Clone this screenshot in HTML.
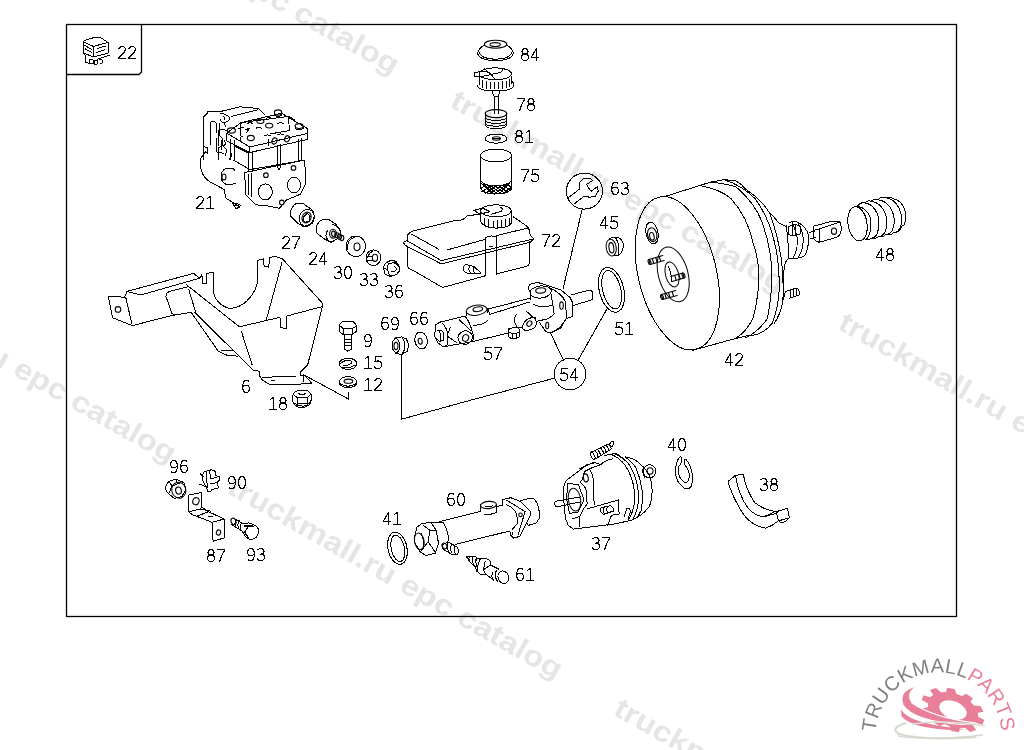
<!DOCTYPE html>
<html><head><meta charset="utf-8">
<style>
html,body{margin:0;padding:0;background:#fff;width:1024px;height:750px;overflow:hidden}
svg{display:block;will-change:transform}
.wm{font-family:"Liberation Sans",sans-serif;font-weight:bold;font-size:29px;fill:#e5e5e5}
.gl{fill:none;stroke:#000;stroke-width:1.1;shape-rendering:crispEdges;stroke-linejoin:round;stroke-linecap:square}
.lb{font-family:"Liberation Sans",sans-serif;font-size:17px;fill:#000}
.d{fill:none;stroke:#000;stroke-width:1;stroke-linejoin:round;stroke-linecap:round}
.d path,.d line,.d polyline,.d polygon{shape-rendering:crispEdges}
.d ellipse,.d circle{stroke-width:1;shape-rendering:crispEdges}
.w{fill:#fff;stroke:#000;stroke-width:1.1;stroke-linejoin:round;stroke-linecap:round}
</style></head><body>
<svg width="1024" height="750" viewBox="0 0 1024 750">
<g id="wm">
<text class="wm" transform="translate(62,-112.5) rotate(29.6)" textLength="380" lengthAdjust="spacingAndGlyphs">truckmall.ru epc catalog</text>
<text class="wm" transform="translate(448.5,106) rotate(29.6)" textLength="380" lengthAdjust="spacingAndGlyphs">truckmall.ru epc catalog</text>
<text class="wm" transform="translate(836.5,328) rotate(29.6)" textLength="380" lengthAdjust="spacingAndGlyphs">truckmall.ru epc catalog</text>
<text class="wm" transform="translate(-161,276) rotate(29.6)" textLength="380" lengthAdjust="spacingAndGlyphs">truckmall.ru epc catalog</text>
<text class="wm" transform="translate(225.5,492) rotate(29.6)" textLength="380" lengthAdjust="spacingAndGlyphs">truckmall.ru epc catalog</text>
<text class="wm" transform="translate(612,714) rotate(29.6)" textLength="380" lengthAdjust="spacingAndGlyphs">truckmall.ru epc catalog</text>
</g>
<g id="frame">
<rect x="66.5" y="24.5" width="890" height="592" fill="none" stroke="#000" stroke-width="1.3"/>
<path d="M66.5 74.5 H139 L141.5 72 V24.5" fill="none" stroke="#000" stroke-width="1.3"/>
</g>
<g id="p22" class="d">
<path d="M83 41.6 L87.1 39.4 L95.2 37.3 L100.2 37.3 L107.9 42.5 L93.4 46.4 Z"/>
<path d="M83 41.6 V52.8 L93.4 57 L108.4 53 V42.5 M93.4 46.4 V57"/>
<path d="M84.3 45.2 L91.6 49.3 M85.3 48.9 L91.6 52.5 M97.5 48.4 L105.2 46.2 M96.6 52.5 L104.8 49.8 M100.7 44.3 L106.1 43"/>
<path d="M83.4 53.4 L85.3 55.5 V62 L89.8 63.8 M109.3 55.2 L97 59.3"/>
<path d="M89.3 59.6 H93 V63.8 H89.3 Z M94.3 60.2 H97 V64.3 H94.3 Z M99.5 59.6 H102 V63.2 H100"/>
</g>
<g id="p21" class="d">
<path d="M207.9 111.7 L220 111.6 L240.2 106.8 L258.7 108.5 L264.8 114.7"/>
<path d="M231.4 116.4 L257.8 109.8"/>
<path d="M208 112.7 L203.2 117.3 V146.7"/><path d="M207.3 153.3 Q206 152 205.6 152"/>
<path d="M210 145.3 V123 Q213 119.5 216 123 V133.3 M207.3 147.3 V153.3 M203.3 146.7 L207.3 147.3"/>
<path d="M218 131 Q222 128.5 227 130.5 M218 131 V140 L219 146 M216.7 138.7 V152 L223.3 153.3 M221 140 V150"/>
<path d="M224 140 L226 144 L223 146 L227 150 L225 156"/>
<path d="M220 113 Q227 114 229.7 118 Q229 122 223 122.6 Q219.5 121 220 117 M223 116.5 Q226 118 224 120"/>
<path d="M224 123 L226 127 M219 123 L219 135 L222 138 L222 146 L218 148 L218 160"/>
<path d="M226.6 133.1 L241.1 122.6 L281.5 113.3 L307 128.3 L307.9 139.3 L249.9 152.5 L226.6 141 Z"/>
<path d="M226.6 133.1 L249.9 147 L307 133.5 M249.9 147 V152.5"/>
<path d="M241.1 122.6 L240.2 135.8 L243 137 M241.1 122.6 L288.5 116.4 L289.4 130.5 L270 134 M288.5 116.4 L295 120"/>
<ellipse cx="260.4" cy="121.3" rx="3.5" ry="2.2" style="shape-rendering:geometricPrecision;stroke-width:1.1"/>
<ellipse cx="269.2" cy="125.6" rx="3.6" ry="2.4" style="shape-rendering:geometricPrecision;stroke-width:1.1"/>
<ellipse cx="278" cy="112.5" rx="3.6" ry="2.6" style="shape-rendering:geometricPrecision;stroke-width:1.1"/>
<path d="M274.4 112.5 V115 Q278 118 281.6 115 V112.5"/>
<ellipse cx="299.1" cy="126.1" rx="4" ry="2.5" style="shape-rendering:geometricPrecision;stroke-width:1.1"/>
<path d="M295.1 126.1 V128.5 Q299 131 303.1 128.5 V126.1"/>
<ellipse cx="231.4" cy="130.5" rx="4" ry="2.6" style="shape-rendering:geometricPrecision;stroke-width:1.1"/>
<ellipse cx="250.8" cy="138" rx="3.5" ry="2.6" style="shape-rendering:geometricPrecision;stroke-width:1.1"/>
<ellipse cx="274.5" cy="141" rx="2.4" ry="3.2" transform="rotate(25 274.5 141)" style="shape-rendering:geometricPrecision;stroke-width:1.1"/>
<ellipse cx="287.2" cy="138.8" rx="2.4" ry="3.2" transform="rotate(25 287.2 138.8)" style="shape-rendering:geometricPrecision;stroke-width:1.1"/>
<path d="M247.5 123.5 Q250 122 252.5 123.5 M266.5 118.2 Q269 116.5 271.5 118.2 M278 123.5 Q280.6 122 283 123.5 M256 128.3 Q258.7 126.5 261.5 128.3 M264.5 135.8 Q267.5 134 270.5 135.8 M277.5 134.9 Q280.6 133 283.5 134.9"/>
<path d="M245 130 L250 128 L246 133 M238 129 L244 127"/>
<path d="M268.5 140 L269 146 M240 137 V142"/>
<path d="M230.2 139 V160 M234.9 140.5 V160.5 M248.9 152.8 V172 M252.4 152.5 V171.5 M277 145 V166 M280.6 144 V165 M298.2 139 V161 M301.7 138 V160.5"/>
<path d="M234.9 146.2 L248.9 153.2 M233.7 160.2 L250.1 169.6 L304 160.2"/>
<path d="M205.6 152 Q199 158 200.3 165 Q201 176 210 182 L224.3 189.5"/>
<path d="M224.3 189.5 L225.5 197.8 L232.5 202.4 L239.5 207.1"/>
<path d="M232.5 203 L236 209 L241 205.5 Q237 203 232.5 203 M234 205.5 L239 205"/>
<path d="M244.8 172.5 L304 160.2 L305.2 168.4 L305.8 183.7 L300.5 194.2 L286.4 200.1 L279.4 208.3 L268 206 L256 204.8 L245.4 194.2 Z"/>
<path d="M248 174 V195 M251.5 173.5 V197"/>
<ellipse cx="265.3" cy="191.9" rx="7" ry="8"/>
<ellipse cx="294" cy="184.9" rx="6.5" ry="8"/>
<circle cx="265.9" cy="175.2" r="2.3" style="shape-rendering:geometricPrecision;stroke-width:1.1"/>
<circle cx="293.5" cy="167.9" r="2.3" style="shape-rendering:geometricPrecision;stroke-width:1.1"/>
<circle cx="281.8" cy="202.4" r="2.3" style="shape-rendering:geometricPrecision;stroke-width:1.1"/>
<path d="M229 168 Q222 168 221 176 Q221 184 229 185 M229 168 Q234 168 235 171 M229 185 Q234 184 236 183"/>
<ellipse cx="224" cy="177" rx="2" ry="3" style="shape-rendering:geometricPrecision;stroke-width:1.1"/>
<path d="M230 150 L232 156 L229 160"/>
<path d="M203.2 146 V160"/>
<path d="M277 166 L279 170 L281 166"/>
</g>
<g id="p27" class="d">
<path d="M297 203 L303 203.3 L313 210.7 L314.3 216.7 L311.7 223.3 L303.7 226.7 L297 222.7 L290.3 216 L291 210 L293.7 205.3 Z"/>
<ellipse cx="306.8" cy="217.8" rx="7.4" ry="8.6" transform="rotate(20 306.8 217.8)" stroke-width="1"/>
<ellipse cx="306.6" cy="217.5" rx="4.4" ry="5.5" transform="rotate(25 306.6 217.5)" stroke-width="1" style="shape-rendering:geometricPrecision;stroke-width:1.1"/>
<path d="M304 216 L307.5 213.5 L310 216 L309 221.5 L305 222.5 L303 219.5 Z" stroke-width="1.3"/>
</g>
<g id="p24" class="d">
<path d="M340 235 L341 231.3 L335.7 224 L328.3 219.3 L323 219.3 L319.7 221.3 L316.3 226 L316.3 232.7 L325 239.3 L331 242.3 L337.7 238.7"/>
<path d="M332 225 Q337 224 340 231"/>
<path d="M327.7 230 Q324 236 328 240"/>
<ellipse cx="333" cy="233.7" rx="3.4" ry="4.4" stroke-width="1" style="shape-rendering:geometricPrecision;stroke-width:1.1"/>
<ellipse cx="333.4" cy="233.8" rx="1.8" ry="2.7" stroke-width="1" style="shape-rendering:geometricPrecision;stroke-width:1.1"/>
<ellipse cx="337" cy="235.3" rx="2" ry="2.6" stroke-width="1" style="shape-rendering:geometricPrecision;stroke-width:1.1"/>
<ellipse cx="339.5" cy="236.7" rx="2" ry="2.6" stroke-width="1" style="shape-rendering:geometricPrecision;stroke-width:1.1"/>
<ellipse cx="341.8" cy="238" rx="2" ry="2.6" stroke-width="1" style="shape-rendering:geometricPrecision;stroke-width:1.1"/>
</g>
<g id="p30" class="d">
<ellipse cx="355.8" cy="246.3" rx="9.8" ry="10.3"/>
<path d="M347 250 Q347 239 355 237"/>
<ellipse cx="357" cy="246.8" rx="3" ry="3.8" style="shape-rendering:geometricPrecision;stroke-width:1.1"/>
</g>
<g id="p33" class="d">
<ellipse cx="373.4" cy="257.7" rx="7.4" ry="7.8"/>
<ellipse cx="375" cy="257.8" rx="2.6" ry="3.6" style="shape-rendering:geometricPrecision;stroke-width:1.1"/>
<path d="M367.9 257.3 Q368.5 253 372.4 251.4 M366.3 256.9 L372.9 256.9 M366.3 260.5 L372.9 260.5"/>
</g>
<g id="p36" class="d">
<path d="M387.4 261.4 L393.3 260.3 L396.5 261.9 L399.6 266.9 L399.6 270.5 L396.5 274.6 L390.1 276.4 L385.1 274.1 L383.3 267.8 L384.7 264.6 Z"/>
<path d="M388.3 263.7 Q392 262.5 395.6 263.2 Q399.6 266 399.6 270 Q398.5 274 394 275.5 Q390 276 389.2 275 Q387.5 270 387.9 269.6 Q387 266 388.3 263.7"/>
<path d="M387.4 261.4 L388.3 263.7 M393.3 260.3 L395.6 263.2 M383.3 267.8 L387.9 269.6"/>
<path d="M394.7 266.4 Q397 268 396.5 269.6 Q395 272 391.5 271.9"/>
</g>
<g id="p6" class="d">
<path d="M108.4 296.8 L113.2 296.2 L124.6 297.4 L127 291.4 L193.6 273.4 L199.6 278.2 L140.8 295 L127 291.4"/>
<path d="M108.4 296.8 L112.6 317.8 L132.4 325.6 L172 315.4 L191.2 312.4"/>
<circle cx="118" cy="309.4" r="2.8" style="shape-rendering:geometricPrecision;stroke-width:1.1"/>
<path d="M125.8 297.6 L131.8 323.5"/>
<path d="M169.6 291.4 L188.8 286.6 M169.6 291.4 Q165.5 293 166 296.6 L172 313.5 L176 315"/>
<path d="M188.8 289.6 L195.4 311.2"/>
<path d="M186.4 284.2 L188.8 286.6 L239.4 326.8 L280 317.3 L280.6 327.4 L286.3 328.7 L287 316 L322.5 306.5"/>
<path d="M191.2 312.4 L218 350.8 L225.5 354.9 L237.9 356.2"/>
<path d="M194.8 312.4 L252.9 369.9 L259.7 371.3 L259.7 376 L262.5 380.2 L270.7 385 L298 384.3 L311.7 383 L303.5 374.7 L303.5 381.5"/>
<path d="M221.4 350.1 L232.4 350.1"/>
<path d="M199.6 278.2 L201.9 274.8 L202.5 283.6 L206.3 283.6 L207 273.5 L213.3 272.2 L213.3 290.6 Q215 304 229.2 308.4 Q245 308 254.6 290.6 Q258 284 257.8 275 L257.8 260.2 L263.5 258.9 L264.1 266.5 L268.6 267.1 L269.8 257.6 L274.9 256.3 L282.5 258.9 L322.5 303.3 L322.5 306.5"/>
<path d="M281.9 262.7 L266 321.1"/>
<path d="M241.3 331.2 L252.2 365.1"/>
<path d="M322.5 306.5 L307.6 365.1 L300.7 372 L300 376 L303.5 374.7"/>
<path d="M262.5 377.4 L296.6 376"/>
<path d="M271 381 L275 380"/>
<path d="M303.5 374.7 L348.8 399.2 L348.8 392"/>
</g>
<g id="p18" class="d">
<path d="M298.1 390 L306.7 390 L311.4 394.4 L311.4 399.4 L309.6 404.8 L304.5 407.3 L298.4 407.3 L293.4 403.7 L292.3 399 L293.4 393.3 Z"/>
<path d="M293.8 394.7 L297 397.6 L307.4 397.6 L310.3 394.7 M297 397.6 V403.7 H307.4 V397.6"/>
<path d="M298.4 393.3 Q301.7 396.5 305.6 393.3"/>
<path d="M294.5 403.3 Q298.8 406.6 304 406 Q308 405 309.6 403"/>
</g>
<g id="p9" class="d">
<path d="M339.3 325.1 L342.5 321.6 L353.1 321.6 L356.9 325.7 L352 328.9 L343.5 328.9 Z"/>
<path d="M339.3 325.1 V331.5 L343.5 334.7 L352.6 334.2 L356.9 331 V325.7 M343.5 328.9 V334.7 M352 328.9 V334.2"/>
<path d="M344.6 334.7 V349.1 L347.8 351.2 L351.5 349.1 V334.7 M344.6 339 H351.5 M344.6 342.2 H351.5 M344.6 345.4 H351.5"/>
</g>
<g id="p15" class="d">
<ellipse cx="348.1" cy="363.8" rx="8.8" ry="5.6"/>
<path d="M340 364 Q345 359 351 361 Q354 363 348 365 L343 366 M341 367 Q348 369 356 365"/>
</g>
<g id="p12" class="d">
<ellipse cx="348.1" cy="382.2" rx="8.8" ry="5.6"/>
<path d="M339.5 383.5 Q348 389 356.5 383.5"/>
<ellipse cx="348.4" cy="381.2" rx="4.3" ry="2.1" style="shape-rendering:geometricPrecision;stroke-width:1.1"/>
</g>
<g id="p69" class="d">
<path d="M396 337.5 L402 336.9 L406.5 339 L408.6 345 L407.5 351 L402 354.4 L396 353.5 L392.5 349 L392 342 Z"/>
<path d="M396 337.5 Q399 340 400 345 Q400 351 396 353.5 M402 336.9 Q405 341 405 346 Q404.5 351 402 354.4"/>
<ellipse cx="396" cy="346" rx="2" ry="3.6" style="shape-rendering:geometricPrecision;stroke-width:1.1"/>
<path d="M401.6 354.4 V419.2 L475 399 M554 378.3 L475 399"/>
</g>
<g id="p66" class="d">
<ellipse cx="421.1" cy="340.5" rx="6.2" ry="8.5" transform="rotate(-12 421.1 340.5)"/>
<path d="M416 345 Q413 337 418 332.5"/>
<ellipse cx="420.2" cy="341.2" rx="2" ry="3" transform="rotate(-12 420.2 341.2)" style="shape-rendering:geometricPrecision;stroke-width:1.1"/>
</g>
<g id="p57" class="d">
<path d="M439.7 322.2 L435.3 324.9 L434.8 336.3 L437.9 342.9 L443.2 346.8 L447.1 345.1"/>
<path d="M439.7 322.2 L465.1 316.1 M442.3 323.1 Q447 328 447.6 334.5 L447.1 345.1"/>
<path d="M437 331 L441 330 L443.6 333 L443.6 340 L440 341.5 L436.5 339"/>
<path d="M439 331 Q441.5 335 440 341"/>
<path d="M459 319.6 L471.3 331 M447.6 336.3 L456.4 342.5 M450.2 327.5 L447.6 334.5"/>
<path d="M465.1 316.1 Q470 322 472.6 333"/>
<ellipse cx="465.2" cy="337.6" rx="7.3" ry="6.6" transform="rotate(-20 465.2 337.6)"/>
<ellipse cx="465.6" cy="338" rx="3" ry="3.5" transform="rotate(20 465.6 338)" style="shape-rendering:geometricPrecision;stroke-width:1.1"/>
<path d="M443.2 346.8 L472.6 341.6 L508.2 333"/>
<ellipse cx="476.5" cy="310.2" rx="10.5" ry="5" transform="rotate(-8 476.5 310.2)"/>
<ellipse cx="477.8" cy="309.2" rx="4.8" ry="2.3" transform="rotate(-8 477.8 309.2)" style="shape-rendering:geometricPrecision;stroke-width:1.1"/>
<path d="M466 310.5 V316 M487 308 V313"/>
<path d="M473.9 325.3 Q484 325 488 320"/>
<path d="M488 309.1 L530 298.2 M489.8 314.3 L530 301.9 M488 309.1 L489.8 314.3"/>
<path d="M508.5 329.5 L512 328 L517 327.5 L519.8 329.5 L519.8 336.5 L516 338.4 L511 338.4 L508.3 336.5 Z M508.3 332 L512 333.5 L516 333.5 L519.8 332 M512 333.5 V338.4 M516 333.5 V338.4"/>
<ellipse cx="540.7" cy="292" rx="10.7" ry="6" transform="rotate(-6 540.7 292)"/>
<ellipse cx="540.7" cy="290.5" rx="5" ry="2.6" transform="rotate(-6 540.7 290.5)" style="shape-rendering:geometricPrecision;stroke-width:1.1"/>
<path d="M530.5 292.6 V299.1 M551.4 294.5 L552.3 301.9 L554.2 314 L548.6 318.6 L536.5 321.4"/>
<path d="M530 284.3 L537.5 282.4 L546.7 285.2 L560.7 289.8 L569.9 297.3 L572.7 302.8 L572.7 316.3 L566.2 318.6 L560.7 327.9 L550.5 333 L545.8 331.6 L539.3 322.3"/>
<path d="M530 284.3 Q527 288 530.5 292.6"/>
<path d="M549.5 288 Q562 293 565.3 301.9 L566.7 317.7"/>
<path d="M550 333 Q560 330 566.2 318.6"/>
<ellipse cx="561.5" cy="305.6" rx="1.8" ry="3.7" style="shape-rendering:geometricPrecision;stroke-width:1.1"/>
<ellipse cx="547.2" cy="325.5" rx="1.5" ry="3.3" style="shape-rendering:geometricPrecision;stroke-width:1.1"/>
<path d="M570.9 295 L588.5 290.3 Q592.5 290.5 592.2 292.6 L592.7 299.6 L572.7 305.6"/>
<path d="M533.8 304.7 Q542 308 551.4 305.6"/>
<path d="M535.8 317 Q528 317.5 524.5 322 Q522 326 523 329 Q524.5 331 529 330 Q535 328.5 536.2 325 Z"/>
<ellipse cx="529.4" cy="323.6" rx="2.2" ry="3" transform="rotate(40 529.4 323.6)" style="shape-rendering:geometricPrecision;stroke-width:1.1"/>
<path d="M517 314 Q513 318 514.3 322 L517 327 M526.3 311.2 L535.6 319.5"/>
<path d="M472.6 341.6 Q474 336 472.6 333 M522.6 327 L508.2 328.4"/>
</g>
<g id="p54" class="d">
<circle cx="570" cy="374" r="15.8"/>
<path d="M550.5 333 L563.4 360.1 M607.5 308 L578.2 360.1 M582.2 209.3 L563 288.9"/>
</g>
<g id="p84" class="d">
<ellipse cx="495.6" cy="44.2" rx="11.2" ry="4" style="shape-rendering:geometricPrecision;stroke-width:1.1"/>
<ellipse cx="495.2" cy="44.6" rx="5.2" ry="2" style="shape-rendering:geometricPrecision;stroke-width:1.1"/>
<path d="M484.6 45 Q479 48 477.5 53 Q479 60.5 495.4 60.6 Q512 60.5 513.4 53 Q512 48 506.6 45"/>
<path d="M479 52 Q481 59 495.4 59.2 Q510 59 512 52"/>
</g>
<g id="p78" class="d">
<ellipse cx="495.2" cy="73.8" rx="16.2" ry="6"/>
<path d="M474 72.6 L486 71 L491 74.5 L480 77 L474 76.6 Z M484.4 68.5 L491 74.5 L496 80 M491 74.5 L500 72.5 Q503 71 502 69"/>
<path d="M479 76 V85.4 M511.4 76 V84 M482 80 V87.5 M486 81 V88.5 M490 81.5 V89 M494 81.5 V89 M498 81.5 V89 M502 81 V88.5 M506 80.5 V88 M509 79 V87"/>
<path d="M477.2 85 Q477.2 91 495.4 91 Q513.6 91 513.6 85 Q513.6 82 511.4 81"/>
<path d="M492.4 91 L492.4 93 L494 96 H498 L499.6 93 V91"/>
<path d="M494 96 V114 M498 96 V114"/>
<ellipse cx="496" cy="113.6" rx="10.8" ry="4" style="shape-rendering:geometricPrecision;stroke-width:1.1"/>
<path d="M485.2 113.6 V125 Q487 128.8 496 128.8 Q505 128.8 506.8 125 V113.6"/>
<path d="M485.2 118.5 Q496 122.5 506.8 118.5 M485.2 121.5 Q496 125.5 506.8 121.5 M485.2 124.5 Q496 128 506.8 124.5"/>
</g>
<g id="p81" class="d">
<ellipse cx="496" cy="138.6" rx="10.8" ry="4.6"/>
<ellipse cx="496.4" cy="138.4" rx="4" ry="1.7" style="shape-rendering:geometricPrecision;stroke-width:1.1"/>
<path d="M492.5 138.4 H500.5" stroke-width="1.5"/>
</g>
<g id="p75" class="d">
<ellipse cx="496.1" cy="155.5" rx="15.4" ry="6.5"/>
<path d="M480.7 155.5 V187.8 Q482 193.9 495.6 193.9 Q510.5 193.9 511.5 187 V155.5"/>
<path d="M480.7 181 Q485 185.8 495.6 185.8 Q507 185.6 511.5 181" />
<path d="M481 183 L492 193.5 M484 184.5 L494 193.8 M487.5 185.5 L497 193.8 M491 186 L501 193.5 M495 186 L504.5 193 M499 186 L507.5 192 M503 185.2 L510 190 M507 184 L511.3 187.5 M481.5 188 L486 184.8 M482 191.5 L491 185.8 M485.5 193 L496 186 M490 193.8 L501 186 M494.5 194 L505.5 185.2 M499 193.8 L509.5 183 M503.5 193 L511.5 187 M508 191.5 L511.5 189.5"/>
</g>
<g id="p72" class="d">
<path d="M411.9 231.2 L455.1 220.5 L462.6 219.9 L467.5 215.6 L480.7 214.3"/>
<path d="M411.9 231.2 Q407.5 234 407.5 236 L406.9 240.6 L403.1 242.5 L405.6 245.6 L441.3 263.9 L530.2 242.2 L534 238.8 L530.2 235 L529.6 230.6 L527.7 226.8 L513.3 216.8"/>
<path d="M406.9 240.6 L441.3 260.6 L534 238.8"/>
<path d="M411.9 234.3 L438.8 249.3 M447 250 L485.1 239.4 M496.4 235.6 L527.7 228.1"/>
<path d="M407.5 246.8 V265.6 Q408 269 411.3 269.4 L442.6 287.5 L485.7 275.7 M496.4 273.9 L526.5 266.3 Q529.6 265 529.6 262 V241.9"/>
<path d="M485.1 274.5 V238.1 Q490 234.5 496.4 236.9 V274.5"/>
<path d="M489 247 L493 246.5"/>
<path d="M466.5 264.5 Q463 265.5 463.5 269 Q464 272.5 467 273 L475 273.5 L481.3 273 L476 268.5 L474 266.5 L466.5 264.5 M470 265.5 Q467.5 269 470.5 273.2 M474 266.5 Q472.5 270 475 273.5"/>
<ellipse cx="496" cy="210.8" rx="15.3" ry="6"/>
<path d="M480.7 211 V221.8 Q484 228.1 496.4 228.1 Q508 228.1 511.4 223 V211"/>
<path d="M484.5 218 V225 M488.8 219.5 V226.5 M493 220.5 V227.5 M497.2 220.5 V227.5 M501.5 220 V227 M505.7 219 V226 M509 217.5 V224"/>
<path d="M473.8 210.5 L482.6 208 L490 211.8 L480 214 Z M491.3 214.3 L501.4 211.2 Q503.5 209 501 207.5"/>
</g>
<g id="p63" class="d">
<circle cx="584.4" cy="191.1" r="18"/>
<path d="M568.3 197.7 L579.5 189.1 L579.5 182.7 L583.7 178.5 L590.7 178.5 L592.3 180.6 L586.9 184.3 L587.5 186.5 L591.2 191.3 L597.6 186.5 L598.1 191.3 L594.9 196.6 L589.6 197.1 L583.7 196.6 L574.1 204"/>
</g>
<g id="p45" class="d">
<ellipse cx="611.2" cy="247.6" rx="5" ry="8.5" transform="rotate(-8 611.2 247.6)"/>
<ellipse cx="611.4" cy="247.8" rx="2.4" ry="5.2" transform="rotate(-8 611.4 247.8)" style="shape-rendering:geometricPrecision;stroke-width:1.1"/>
<path d="M609 239.3 Q613 236 618 237.5 Q623.5 240 623.3 246 Q623 253 618 255.5 L614 256"/>
<path d="M616 238.5 Q620 244 618 255.5"/>
</g>
<g id="p51" class="d">
<ellipse cx="611.5" cy="289.8" rx="12.2" ry="22.8" transform="rotate(-14 611.5 289.8)"/>
<ellipse cx="611.7" cy="289.7" rx="9" ry="19.6" transform="rotate(-14 611.7 289.7)"/>
</g>
<g id="p42" class="d">
<ellipse cx="677.3" cy="273.3" rx="39" ry="78.2" transform="rotate(-13.6 677.3 273.3)"/>

<path d="M663.3 197 L710 182.3 L724 179.6 L736 181"/>
<path d="M692.4 350.4 L730 340 L748 335.6"/>
<path d="M700 185.6 Q722 190 731.2 198.8 Q748 218 752.8 242 Q760 262 758.8 282.8 Q757 305 752.8 318.8 Q746 332 736 338"/>
<path d="M709.6 182 Q728 184 736 186.8 Q755 203 762.4 222.8 Q772 250 772 278 Q771 302 767.2 318.8 Q758 332 745.6 338"/>
<path d="M724 179.6 Q743 186 755.2 198.8 Q769 218 774.4 242 Q780 265 779.2 290 Q778 310 772 323.6 Q763 335 748 336"/>
<path d="M736 181 Q742 184 745.6 189.2 Q762 200 769.6 213.2 Q778 235 781.6 261.2 Q784 282 782.8 302 Q780 315 774 324"/>
<path d="M770 213 Q776 219 778 222.3 Q782 225 786 226.3"/>
<path d="M786 225 Q788.5 240 788.7 258.3 M788.7 258.3 Q784 262 784 270 L783.5 300"/>
<path d="M790 222.5 Q794 220 797.5 222.3 Q806 226 808.7 235.7 Q809 248 804.7 255.7 Q800 259 792.7 258.3 Q790 258.5 788.7 258.3"/>
<path d="M797.5 222.5 Q803 230 803.3 239.7 Q803 250 798 257.7"/>
<path d="M792 222.3 Q797 232 797.5 242 Q797 252 792.7 258.3"/>
<path d="M788.7 226.3 L795 224.5 L800 226 L800 234 L793 236 L788.7 234.5 Z M792 225.5 V235.5 M795.5 224.8 V235"/>
<path d="M809.3 232.3 L815.3 231 M810 238.3 L816 237.7"/>
<path d="M786.7 291 L797 288 Q799.3 289.5 799.3 292 L799.3 295 L789 298.3 M790 290 V297.5 M793.5 289 V296.5 M796.5 288.3 V296"/>
<path d="M786.7 291 Q784 293 784 297"/>
<ellipse cx="652" cy="233" rx="6" ry="11" transform="rotate(-12 652 233)"/>
<ellipse cx="652.2" cy="234.7" rx="4.6" ry="7" transform="rotate(-12 652.2 234.7)" style="shape-rendering:geometricPrecision;stroke-width:1.1"/>
<ellipse cx="651.9" cy="236.3" rx="2.2" ry="3.9" transform="rotate(-12 651.9 236.3)" style="shape-rendering:geometricPrecision;stroke-width:1.1"/>
<ellipse cx="673.2" cy="274.4" rx="14.8" ry="28" transform="rotate(-15 673.2 274.4)"/>
<ellipse cx="672" cy="274.4" rx="6.5" ry="12.8" transform="rotate(-15 672 274.4)"/>
<path d="M668 266 Q671 271 672 282"/>
<path d="M662.8 255.5 L648.8 259.5 L650.2 264.5 L664.2 260.5 M659.3 256.5 L660.7 261.5 M655.8 257.5 L657.2 262.5 M652.3 258.5 L653.7 263.5" style="shape-rendering:geometricPrecision;stroke-width:1.1"/>
<ellipse cx="649.5" cy="262.0" rx="1.3" ry="2.6" transform="rotate(164.1 649.5 262.0)" style="shape-rendering:geometricPrecision;stroke-width:1.1"/>
<path d="M675.8 290.5 L661.3 294.5 L662.7 299.5 L677.2 295.5 M672.2 291.5 L673.6 296.5 M668.6 292.5 L669.9 297.5 M664.9 293.5 L666.3 298.5" style="shape-rendering:geometricPrecision;stroke-width:1.1"/>
<ellipse cx="662.0" cy="297.0" rx="1.3" ry="2.6" transform="rotate(164.6 662.0 297.0)" style="shape-rendering:geometricPrecision;stroke-width:1.1"/>
<path d="M672.2 281.5 L684.2 278.0 L682.8 273.0 L670.8 276.5 M676.2 280.3 L674.8 275.3 M680.2 279.2 L678.8 274.2" style="shape-rendering:geometricPrecision;stroke-width:1.1"/>
<ellipse cx="683.5" cy="275.5" rx="1.3" ry="2.6" transform="rotate(-16.3 683.5 275.5)" style="shape-rendering:geometricPrecision;stroke-width:1.1"/>
</g>
<g id="p48" class="d">
<path d="M813.3 226.3 L830 221.7 L840 222 Q842 227 841 231 Q840 236 836 237.5 L819.3 242.3 L816 241 L813.3 238 Z"/>
<path d="M813.3 230.5 L819.3 229 L840 222 M819.3 229 L819.3 242.3"/>
<ellipse cx="834" cy="231.2" rx="2.6" ry="3.2" style="shape-rendering:geometricPrecision;stroke-width:1.1"/>


</g>
<g id="p96" class="d">
<path d="M165 487.4 L168.8 481.4 L175.5 479.1 L183.8 482.5 L186 489.1 L182.1 496.3 L174.4 498.5 L166.6 491.9 Z"/>
<path d="M168.8 481.4 L172 486 L169 493 M175.5 479.1 L177 482.5 M172 486 L180 483"/>
<ellipse cx="178.8" cy="490.2" rx="7" ry="8" transform="rotate(-15 178.8 490.2)"/>
<ellipse cx="178.5" cy="490.6" rx="2.8" ry="3.6" transform="rotate(-15 178.5 490.6)" style="shape-rendering:geometricPrecision;stroke-width:1.1"/>
</g>
<g id="p90" class="d">
<path d="M203.8 472 L211.6 469.7 L215.5 471.4 L216 475.8 L219.3 476.4 L219.9 479.7 L217.7 481.9 L218.2 488 L211.6 489.7 L210.5 491.9 L207.7 491.3 L206.6 487.4 L200.5 484.1 L199.4 484.7"/>
<path d="M203.8 472 Q201 478 204 483 L206.6 487.4 M206 471.5 L207.5 488 M209.5 472 L211 478.6 L217 477.5 M210.5 484 L217.5 482.5 M200.5 474 L204 477"/>
</g>
<g id="p87" class="d">
<path d="M188.2 495.2 L201.5 492.4 L202 507.4 L208.7 511.8 L224.2 519 L224.7 537.8 L213.1 541.1 L212 522.3 L196.5 516.2 L192.1 514.5 L188.8 511.8 Z"/>
<path d="M188.8 511.8 L199.8 509 L202 507.4 M199.8 509 L210.9 511.2 M212 522.3 L224.2 519 M196.5 516.2 L208.7 511.8"/>
<ellipse cx="195.9" cy="501.2" rx="3.1" ry="3.6" transform="rotate(20 195.9 501.2)" style="shape-rendering:geometricPrecision;stroke-width:1.1"/>
<ellipse cx="218.5" cy="532.5" rx="2.1" ry="2.6" transform="rotate(20 218.5 532.5)" style="shape-rendering:geometricPrecision;stroke-width:1.1"/>
<path d="M208 517 L213 516.5"/>
</g>
<g id="p93" class="d">
<path d="M233.3 518.2 L243.9 524 M231.5 524.4 L242.2 531.2"/>
<ellipse cx="233.5" cy="521.4" rx="2.4" ry="3.4" transform="rotate(-20 233.5 521.4)" style="shape-rendering:geometricPrecision;stroke-width:1.1"/>
<path d="M236.5 519.5 Q234 523 235.5 526 M239.5 521 Q237 524.5 238.5 528 M242 522.5 Q239.5 526 241 530"/>
<path d="M243.9 524 L246.5 523.5 Q248 522.5 249.9 523.3 Q256 524.5 258.3 529 Q259.5 534 256 537.5 Q253 539.7 249.5 539.3 Q246 538.5 242.2 531.2"/>
<path d="M246.5 526.1 L253.3 526.1 M248.2 526.5 L244.8 532 L248.2 538 M244.8 526 L252 525.5" stroke-width="1.3"/>
</g>
<g id="p41" class="d">
<ellipse cx="397.5" cy="548.3" rx="9.5" ry="16.3" transform="rotate(-12 397.5 548.3)"/>
<ellipse cx="397.8" cy="548.3" rx="6.6" ry="13.4" transform="rotate(-12 397.8 548.3)"/>
</g>
<g id="p60" class="d">
<path d="M417 527 L422 523.5 L431 522.5 L436 530 L438.5 543 L435.5 553 L426 555.5 L420 552 L414.5 542 L414.5 537 Z"/>
<ellipse cx="419.3" cy="541.3" rx="4.8" ry="8.3" transform="rotate(-10 419.3 541.3)"/>
<path d="M421 533.5 Q425 540 423 549"/>
<path d="M423 525 L430 530.5 L428 542 L432 547 L435.5 553 M428 542 L420 552 M430 530.5 L436 530"/>
<path d="M431 522.5 L443 522 Q448 530 448.5 539 L447 546"/>
<path d="M440 521.5 L480 511.5 V504.4 M496.4 504.4 V512.6 Q490 515 484.1 514.6 M496.4 506.4 L503 505.4"/>
<ellipse cx="488.5" cy="505" rx="8" ry="3.6" transform="rotate(-5 488.5 505)" style="shape-rendering:geometricPrecision;stroke-width:1.1"/>
<path d="M485 506 Q489 508 493 505.5"/>
<path d="M455.4 544.4 L509.7 531"/>
<path d="M502.6 499.7 L510.8 497.7 L520 501.3 L530.3 511.5 L530.3 515.6 L520 536.2 L513.8 538.2 L510.8 535.1 L509.7 531"/>
<path d="M502.6 499.7 Q501.5 503 503 505.4 M506.7 500.3 L525.1 511.5 L518 535.1"/>
<path d="M506.7 504.9 Q514 508 515.9 512.6 Q518 518 517 523.8 L511.8 530"/>
<circle cx="520.5" cy="514.8" r="1.8" style="shape-rendering:geometricPrecision;stroke-width:1.1"/>
<path d="M512 532 L513 535"/>
<path d="M520 500.8 L530.3 498.2 L534.4 499.2 Q538.5 504 539 510.5 L539 518.7 L536.4 522.8 L528.2 525.4 L527.2 523.8"/>
<path d="M442 545 L448 542 L457 547 Q460 551 457 555 L451 554 L443 549 Z"/>
<ellipse cx="444.5" cy="546" rx="2.3" ry="3" transform="rotate(-30 444.5 546)" style="shape-rendering:geometricPrecision;stroke-width:1.1"/>
<path d="M448 543.5 Q446 547 448.5 551 M451.5 545 Q449.5 549 452 553 M455 546.5 Q453 550 455.5 554"/>
</g>
<g id="p61" class="d">
<path d="M466.2 556.2 L474.6 556.2 L477.6 558.3 M466.2 556.5 L470.5 562.6 L475.2 566.7 L477 571.4"/>
<path d="M469.5 556.5 Q468 559 470.5 562.6 M473 556.5 Q471.5 561 474 565.5 M476.5 557.5 Q475 562 477 567"/>
<path d="M477.6 558.3 L480.5 558.5 L485.8 558.3 L489.9 560.6 L490.8 564.7 M480.5 558.5 Q478 563 477.6 567.3 L477 571.4 L480.5 574.4 L485.8 574.4 M485.2 561.5 L483.4 569.7 L485.8 574.4 M483.4 569.7 L490.8 564.7"/>
<path d="M490.5 565 L498.5 569 M485.8 574.4 L494 580"/>
<path d="M493 572.5 Q490.5 576 493.5 580 M496.5 570.5 Q493.5 575 497.5 581.5"/>
<ellipse cx="503.3" cy="577.2" rx="5.3" ry="6.4" transform="rotate(-20 503.3 577.2)"/>
</g>
<g id="p37" class="d">
<path d="M626.7 457 Q633 458 638.1 462 L644.4 468.4 Q650 474 650.8 479.8 Q652.5 487 652 493.7 Q651.5 501 649.5 506.4 Q645 512 640.6 515.2 Q636 518 631.8 520.3 L614 524"/>
<path d="M611.5 454.5 Q620 458 625.4 465.8 Q631 474 633.7 486.1 Q635 495 634.3 503.8 Q633 512 629.2 519"/>
<path d="M615.3 453.2 Q623 457 629.2 464.6 Q635 474 637.5 486.1 Q639 495 638.1 503.8 Q637 512 633 519"/>
<path d="M625.4 457 Q631 461 635.6 467.1 Q640 477 641.9 488.6 Q643 500 641.3 510.2 Q639 515 637 517"/>
<path d="M612.8 458.9 Q608 459 600.1 464.6"/>
<path d="M565.7 481 L587.2 464.6 L594.8 462.7 L601.1 464.6 L592.2 467.7 L584.6 471.5 L582.1 479.8 L580.2 481.7"/>
<path d="M565.7 481 L563.1 488.6 L564.4 508.9 L565.7 519 L568.2 525.3 L573.3 529.1"/>
<path d="M580.2 481.7 L585.9 488.6 L587.2 503.8 L583.4 508.9 L579.6 516.5 L572 519"/>
<path d="M568 483.5 L578.5 484.5 L584 500 L578 512 L569.5 513.5 L566.5 498 Z"/>
<ellipse cx="574.5" cy="499.7" rx="6.1" ry="11.5" transform="rotate(-8 574.5 499.7)"/>
<path d="M555.5 501.3 L580.2 496.9 M556.2 507 L580.2 501.9 M555.5 501.3 Q553.5 504 556.2 507"/>
<ellipse cx="585.8" cy="477.9" rx="2.4" ry="4" transform="rotate(-10 585.8 477.9)" style="shape-rendering:geometricPrecision;stroke-width:1.1"/>
<path d="M589.7 469.6 Q593 474 593.5 479.8 L594.1 505"/>
<path d="M587.2 508.9 L618.5 500 L619.1 514 L611.5 515.2 L607.7 525.3 M573.3 529.1 L614 524"/>
<path d="M579.6 516.5 L579.6 527"/>
<path d="M601 508 L610 505.7 Q614 507 613.5 511 L604 514.3 Q599.5 513 601 508 M604.5 506.8 Q602 510 604.5 514 M608 506 Q605.5 509.5 608 513"/>
<path d="M624.2 517 L626.5 509 Q629.5 507 630.5 511 L628 520"/>
<path d="M594.7 459.3 A1.8 4.0 -28.3 0 0 590.9 452.3"/>
<path d="M597.4 457.7 A1.7 3.8 -28.3 0 0 593.8 450.9"/>
<path d="M600.1 456.0 A1.6 3.7 -28.3 0 0 596.6 449.6"/>
<path d="M602.8 454.4 A1.6 3.5 -28.3 0 0 599.5 448.2"/>
<path d="M605.5 452.7 A1.5 3.3 -28.3 0 0 602.4 446.9"/>
<path d="M608.2 451.1 A1.4 3.2 -28.3 0 0 605.2 445.5"/>
<path d="M610.9 449.4 A1.4 3.0 -28.3 0 0 608.1 444.2"/>
<path d="M594.7 459.3 L610.9 449.4 M590.9 452.3 L608.1 444.2"/>
<path d="M594.7 459.3 A2.0 4.0 -28.3 0 1 590.9 452.3"/>
<path d="M609.5 444 L611.5 441.5 Q613.5 440.5 614 443 L612 446.5 L609.8 448"/>
<path d="M580 468.7 L593.7 462.3 L601 464.8 M604.4 455.5 L614.2 453.6 Q620 456 626 461"/>

<ellipse cx="649.5" cy="471.3" rx="6.3" ry="6.6"/>
<ellipse cx="650" cy="471" rx="3" ry="3.3" style="shape-rendering:geometricPrecision;stroke-width:1.1"/>
<path d="M644 466.5 Q641 472 645 477.5"/>
</g>
<g id="p40" class="d">
<path d="M680.3 456.3 Q677 460 676.5 463 Q675 468 675.7 475 Q677 482 681.7 485.7 Q684 488.7 687 488.7 Q690.5 488.5 691.7 485.7 Q693 480 692.3 473.7 Q691 467 687.7 461.7 L685.7 459 Q684 459 684.2 461 L684.5 464.3 Q688 468 689 473 Q689.5 479 688.3 481 Q686.5 483 684.3 482.3 Q680 479 679 475 Q678 470 678.3 467 L681 463.7 L681.5 458 Z"/>
</g>
<g id="p38" class="d">
<path d="M728 481.6 L735.4 475.4 L743.3 474.3 Q746 490 754.7 502.6 Q764 510 776.2 511.7 L787.6 508.3 L789.3 518 Q783 525 778.5 520.8 Q772 526 766 528.1 Q748 526 738 505 Q732 495 728 481.6 Z"/>
<path d="M735.4 475.4 Q739 496 748 508 Q755 516 763.8 516.8 L776.2 511.1 M778.5 520.8 L776.2 511.1 M763.8 516.8 L778 512.8"/>
<path d="M778.5 520.8 L789.3 518"/>
</g>
<g id="p48b" class="d">
<ellipse cx="857.5" cy="223.8" rx="9.5" ry="17.2" transform="rotate(-9 857.5 223.8)"/>
<path d="M857.0 206.3 C865.4 207.3 871.0 214.7 871.0 223.0 C871.0 231.2 868.6 239.8 865.0 239.3"/>
<path d="M865.0 203.0 C873.4 204.0 879.0 213.3 879.0 223.7 C879.0 230.8 876.1 238.5 871.7 238.0"/>
<path d="M871.0 201.3 C880.6 202.3 887.0 212.2 887.0 223.0 C887.0 229.7 883.8 236.8 879.0 236.3"/>
<path d="M877.7 199.7 C887.7 200.7 894.3 210.7 894.3 221.7 C894.3 228.0 891.1 234.8 886.3 234.3"/>
<path d="M885.7 197.7 C895.3 198.7 901.7 209.0 901.7 220.3 C901.7 226.3 898.7 232.8 894.3 232.3"/>
<path d="M894.3 199.3 C901.1 200.3 905.7 208.2 905.7 217.0 C905.7 221.3 904.3 226.2 902.3 225.7"/>
<path d="M857.0 206.3 Q861.0 201.5 865.0 203.0"/>
<path d="M865.0 239.3 Q868.9 240.5 871.7 238.0"/>
<path d="M865.0 203.0 Q868.0 199.8 871.0 201.3"/>
<path d="M871.7 238.0 Q875.9 239.2 879.0 236.3"/>
<path d="M871.0 201.3 Q874.4 198.2 877.7 199.7"/>
<path d="M879.0 236.3 Q883.1 237.5 886.3 234.3"/>
<path d="M877.7 199.7 Q881.7 196.2 885.7 197.7"/>
<path d="M886.3 234.3 Q890.8 235.5 894.3 232.3"/>
<path d="M885.7 197.7 Q890.0 196.2 894.3 199.3"/>
<path d="M894.3 232.3 Q898.8 233.5 902.3 225.7"/>
</g>
<g id="logo">
<defs><path id="arc" d="M875.5 735.5 A63 63 0 0 1 1001.5 735.5"/></defs>
<text font-family="Liberation Sans, sans-serif" font-size="20" fill="#808080"><textPath href="#arc" startOffset="3.5" textLength="190" lengthAdjust="spacing">TRUCKMALL<tspan fill="#ea8099">PARTS</tspan></textPath></text>
<path d="M23.52 -4.79 L29.76 -3.76 L29.76 3.76 L23.52 4.79 L21.84 9.95 L26.29 14.45 L21.87 20.54 L16.21 17.70 L11.83 20.88 L12.77 27.14 L5.62 29.47 L2.71 23.85 L-2.71 23.85 L-5.62 29.47 L-12.77 27.14 L-11.83 20.88 L-16.21 17.70 L-21.87 20.54 L-26.29 14.45 L-21.84 9.95 L-23.52 4.79 L-29.76 3.76 L-29.76 -3.76 L-23.52 -4.79 L-21.84 -9.95 L-26.29 -14.45 L-21.87 -20.54 L-16.21 -17.70 L-11.83 -20.88 L-12.77 -27.14 L-5.62 -29.47 L-2.71 -23.85 L2.71 -23.85 L5.62 -29.47 L12.77 -27.14 L11.83 -20.88 L16.21 -17.70 L21.87 -20.54 L26.29 -14.45 L21.84 -9.95 Z M 13.0 0 A 13.0 13.0 0 1 0 -13.0 0 A 13.0 13.0 0 1 0 13.0 0 Z" fill="#e9809a" fill-rule="evenodd" transform="translate(953 710) rotate(22) scale(1.1 0.68)"/>
<path d="M919 685.3 Q897 690 903 705 Q913 721 962 724.5 L976 723 Q934 718 912 703 Q905 692 919 685.3 Z" fill="#e9809a" stroke="#fff" stroke-width="1.2"/>
<path d="M901 709.3 L901.5 716.3 Q911 728 950 730 L966 729.2 Q930 726 912 718.5 Q904 714.5 901 709.3 Z" fill="#e9809a"/>
<path d="M906 723 Q889 728 899 734 Q925 741 976 737" fill="none" stroke="#d9d9d2" stroke-width="2.2"/>
<path d="M912 724 Q942 719 985 726" fill="none" stroke="#dcdcd6" stroke-width="1.5"/>
<path d="M898 736 Q930 741 983 735" fill="none" stroke="#d9d9d2" stroke-width="1.6"/>
</g>
<g id="labels" class="gl">
<defs><path id="g0" d="M4 -12 Q0.6 -12 0.6 -6 Q0.6 0 4 0 Q7.4 0 7.4 -6 Q7.4 -12 4 -12 Z"/><path id="g1" d="M1.2 -9.8 L4.3 -12 V0 M1 0 H7.2"/><path id="g2" d="M0.8 -9.5 Q1.3 -12 4.1 -12 Q7.3 -12 7.3 -8.8 Q7.3 -6.7 4.8 -4.6 L0.8 -0.6 V0 H7.6"/><path id="g3" d="M0.8 -10.6 Q2 -12 4 -12 Q7 -12 7 -9.1 Q7 -6.4 3.6 -6.4 Q7.4 -6.4 7.4 -3.2 Q7.4 0 4 0 Q1.5 0 0.5 -1.5"/><path id="g4" d="M5.6 0 V-12 L0.4 -3.6 V-3.4 H7.8"/><path id="g5" d="M7 -12 H1.6 L1 -6.6 Q2.5 -7.6 4 -7.6 Q7.5 -7.6 7.5 -3.8 Q7.5 0 4 0 Q1.6 0 0.5 -1.4"/><path id="g6" d="M6.8 -11.4 Q5.8 -12 4.3 -12 Q0.7 -12 0.7 -5.5 Q0.7 0 4 0 Q7.3 0 7.3 -3.8 Q7.3 -7.4 4 -7.4 Q1.6 -7.4 0.8 -5"/><path id="g7" d="M0.5 -12 H7.5 V-11 Q4.5 -6.5 2.6 0"/><path id="g8" d="M4 -6.4 Q1 -6.4 1 -9.2 Q1 -12 4 -12 Q7 -12 7 -9.2 Q7 -6.4 4 -6.4 Q0.5 -6.4 0.5 -3.2 Q0.5 0 4 0 Q7.5 0 7.5 -3.2 Q7.5 -6.4 4 -6.4 Z"/><path id="g9" d="M1.2 -0.6 Q2.2 0 3.7 0 Q7.3 0 7.3 -6.5 Q7.3 -12 4 -12 Q0.7 -12 0.7 -8.2 Q0.7 -4.6 4 -4.6 Q6.4 -4.6 7.2 -7"/></defs>
<use href="#g2" x="118" y="58.5"/>
<use href="#g2" x="128" y="58.5"/>
<use href="#g2" x="196" y="208.5"/>
<use href="#g1" x="206" y="208.5"/>
<use href="#g2" x="282" y="248.5"/>
<use href="#g7" x="292" y="248.5"/>
<use href="#g2" x="309" y="264.5"/>
<use href="#g4" x="319" y="264.5"/>
<use href="#g3" x="334" y="278.5"/>
<use href="#g0" x="344" y="278.5"/>
<use href="#g3" x="360" y="285.5"/>
<use href="#g3" x="370" y="285.5"/>
<use href="#g3" x="385" y="297.5"/>
<use href="#g6" x="395" y="297.5"/>
<use href="#g8" x="521" y="60.5"/>
<use href="#g4" x="531" y="60.5"/>
<use href="#g7" x="517" y="110.5"/>
<use href="#g8" x="527" y="110.5"/>
<use href="#g8" x="515" y="142.5"/>
<use href="#g1" x="525" y="142.5"/>
<use href="#g7" x="521" y="181.5"/>
<use href="#g5" x="531" y="181.5"/>
<use href="#g7" x="542" y="246.5"/>
<use href="#g2" x="552" y="246.5"/>
<use href="#g6" x="611" y="194.5"/>
<use href="#g3" x="621" y="194.5"/>
<use href="#g4" x="600" y="228.5"/>
<use href="#g5" x="610" y="228.5"/>
<use href="#g5" x="615" y="334.5"/>
<use href="#g1" x="625" y="334.5"/>
<use href="#g5" x="560" y="380.5"/>
<use href="#g4" x="570" y="380.5"/>
<use href="#g4" x="725" y="365.5"/>
<use href="#g2" x="735" y="365.5"/>
<use href="#g4" x="876" y="260.5"/>
<use href="#g8" x="886" y="260.5"/>
<use href="#g9" x="364" y="346.5"/>
<use href="#g6" x="381" y="329.5"/>
<use href="#g9" x="391" y="329.5"/>
<use href="#g6" x="410" y="324.5"/>
<use href="#g6" x="420" y="324.5"/>
<use href="#g1" x="364" y="368.5"/>
<use href="#g5" x="374" y="368.5"/>
<use href="#g1" x="364" y="390.5"/>
<use href="#g2" x="374" y="390.5"/>
<use href="#g5" x="484" y="359.5"/>
<use href="#g7" x="494" y="359.5"/>
<use href="#g6" x="242" y="392.5"/>
<use href="#g1" x="269" y="409.5"/>
<use href="#g8" x="279" y="409.5"/>
<use href="#g9" x="170" y="472.5"/>
<use href="#g6" x="180" y="472.5"/>
<use href="#g9" x="228" y="488.5"/>
<use href="#g0" x="238" y="488.5"/>
<use href="#g8" x="207" y="561.5"/>
<use href="#g7" x="217" y="561.5"/>
<use href="#g9" x="247" y="560.5"/>
<use href="#g3" x="257" y="560.5"/>
<use href="#g6" x="447" y="505.5"/>
<use href="#g0" x="457" y="505.5"/>
<use href="#g4" x="383" y="524.5"/>
<use href="#g1" x="393" y="524.5"/>
<use href="#g6" x="516" y="580.5"/>
<use href="#g1" x="526" y="580.5"/>
<use href="#g3" x="592" y="549.5"/>
<use href="#g7" x="602" y="549.5"/>
<use href="#g4" x="668" y="450.5"/>
<use href="#g0" x="678" y="450.5"/>
<use href="#g3" x="760" y="490.5"/>
<use href="#g8" x="770" y="490.5"/>
</g>
</svg>
</body></html>
